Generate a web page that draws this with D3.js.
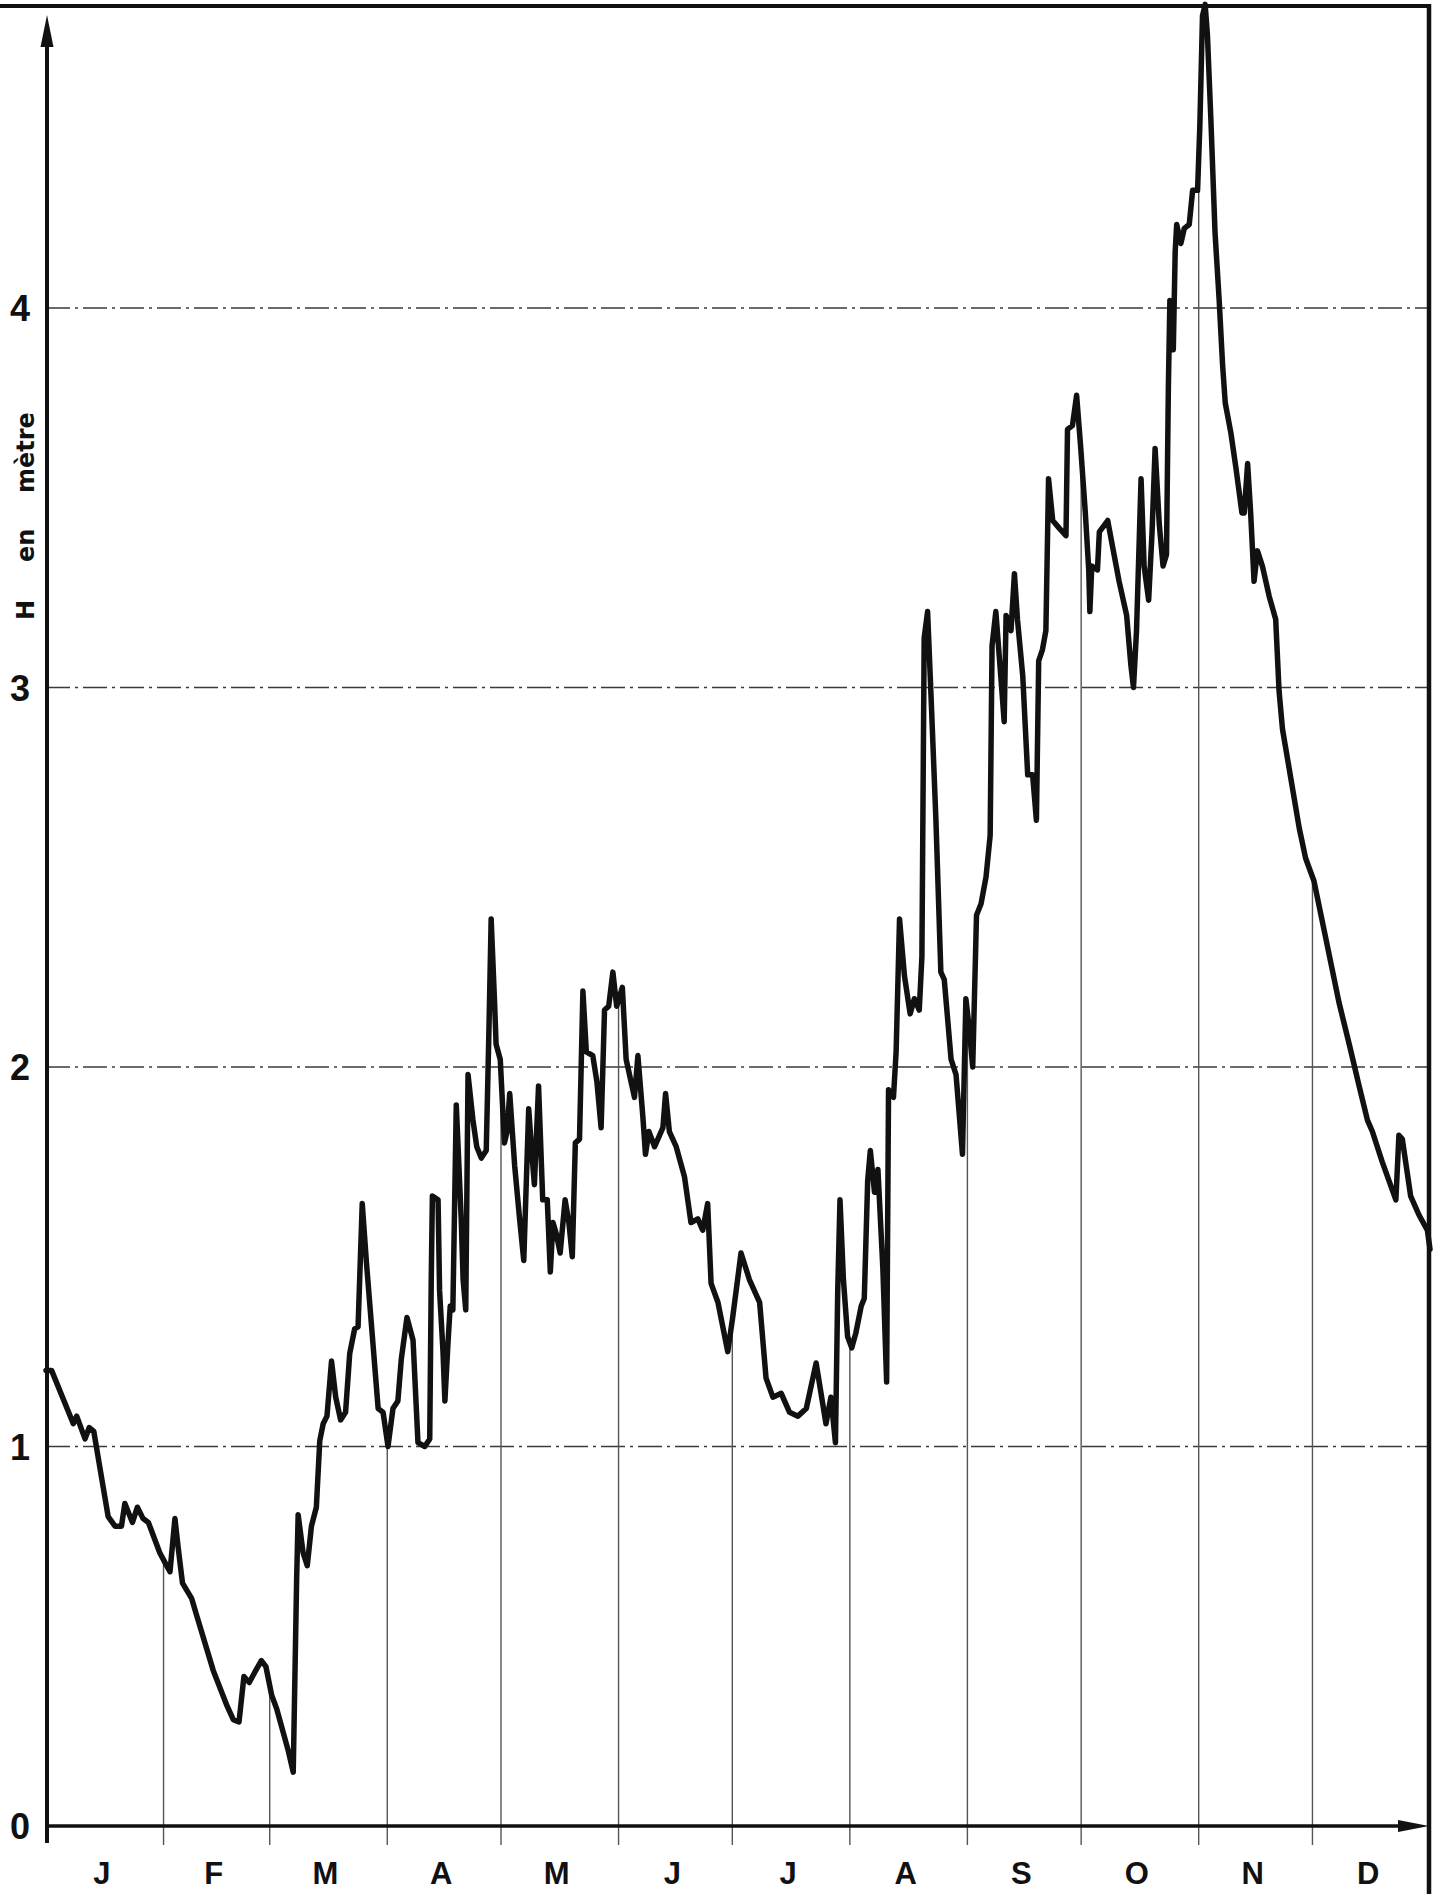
<!DOCTYPE html>
<html>
<head>
<meta charset="utf-8">
<script src="https://cdn.jsdelivr.net/npm/d3@7"></script>
<style>
  html, body { margin: 0; padding: 0; background: #fff; }
  svg { display: block; }
</style>
</head>
<body>
<svg id="chart" width="1443" height="1894"></svg>
<script>
// Daily water level (m) over the year, day 0 = 1 January
const days = [
  0, 1.5, 7.2, 8.1, 10.3, 11.4, 12.6, 14.2, 16.4, 18.2, 19.9, 20.8, 22.8, 24.1, 25.6, 27,
  30, 31.6, 32.7, 34, 34.9, 36, 38.4, 39.7, 44.1, 47.6, 49.4, 50.9, 52.2, 53.6, 55.1, 56.8,
  58, 59.5, 60.8, 63.9, 65.2, 66.1, 66.5, 67.8, 68.9, 70, 71.3, 72.2, 73.1, 74.1, 75.3, 76.4,
  77.7, 79, 80.1, 81.4, 82.3, 83.4, 84.5, 87.6, 88.9, 90.2, 91.5, 92.8, 93.7, 95.2, 96.8, 98.1,
  99.9, 101.2, 101.6, 101.9, 103.4, 103.8, 104.7, 105.2, 106, 106.6, 107.3, 108.2, 109.5, 110, 110.7, 111.3,
  112.6, 113.6, 114.8, 116.1, 116.8, 117.4, 118.3, 118.7, 119.8, 120.9, 121.6, 122.3, 123.6, 124.9, 126, 127.3,
  128, 128.8, 129.9, 131, 132.2, 133, 133.7, 134.6, 135.6, 136.9, 137.9, 138.8, 139.6, 140.7, 141.6, 142.5,
  144.2, 145.3, 146.4, 147.3, 148.4, 149.5, 150.5, 152, 153, 154.1, 155.2, 156.1, 157.4, 158.1, 159, 160.5,
  162.7, 163.4, 164.4, 166.2, 168.4, 170.1, 171.9, 173.2, 174.5, 175.4, 177.2, 179.8, 181.1, 183.3,
  185.5, 188.2, 189.9, 191.7, 193.9, 196.1, 198.3, 200.5, 203.1, 205.7, 207, 208.2, 208.8, 209.4, 210.3, 211.4,
  212.5, 213.6, 215, 215.8, 216.7, 217.4, 218.5, 219.4, 220.7, 221.7, 222.2, 223.5, 224.2, 225.1, 226.4, 227.9,
  229, 230.3, 231, 231.6, 232.5, 233.4, 234.7, 236, 236.9, 238.7, 240, 241.7, 242.6, 243.5, 244.4, 245.4,
  246.6, 247.9, 249, 249.5, 250.5, 251.8, 252.7, 253.2, 254.5, 255.4, 256.2, 257.6, 258.9, 260.2, 261.2, 261.8,
  262.8, 263.7, 264.4, 265.5, 267.2, 269, 269.4, 270.7, 271.8, 272.9, 274.1, 275, 275.3, 275.8, 277.3, 277.8,
  280, 281.3, 283, 285, 286.1, 286.8, 287.6, 288.8, 289.6, 290.8, 291.7, 292.5, 293.6, 294.6, 295.5, 296,
  296.4, 297.3, 297.8, 298.2, 299.3, 300.2, 301.5, 302.4, 303.7, 304.3, 305, 305.7, 306.3, 307.2, 308.3, 309.4,
  310.3, 311, 312.5, 313.8, 315.4, 316, 316.9, 317.7, 318.6, 319.5, 320.8, 322.6, 324.3, 325.2, 326.1, 327.8,
  330.5, 332.2, 334.4, 337.5, 341, 343.7, 346.3, 348.5, 349.8, 352.4, 356, 356.8, 357.7, 359.9, 362.1, 364.3, 365
];
const heights = [
  1.20, 1.20, 1.06, 1.08, 1.02, 1.05, 1.04, 0.945, 0.815, 0.79, 0.79, 0.85, 0.80, 0.84, 0.81, 0.80,
  0.72, 0.69, 0.67, 0.81, 0.73, 0.64, 0.60, 0.556, 0.41, 0.32, 0.28, 0.274, 0.394, 0.378, 0.406, 0.436,
  0.42, 0.345, 0.31, 0.198, 0.142, 0.65, 0.82, 0.72, 0.686, 0.79, 0.84, 1.015, 1.06, 1.08, 1.225, 1.13,
  1.07, 1.09, 1.245, 1.31, 1.315, 1.64, 1.486, 1.10, 1.09, 1.00, 1.10, 1.12, 1.23, 1.34, 1.28, 1.01,
  1.00, 1.02, 1.44, 1.66, 1.65, 1.41, 1.25, 1.12, 1.27, 1.37, 1.36, 1.90, 1.60, 1.44, 1.36, 1.98,
  1.86, 1.79, 1.76, 1.78, 2.09, 2.39, 2.17, 2.06, 2.02, 1.80, 1.83, 1.93, 1.74, 1.60, 1.49, 1.89,
  1.79, 1.69, 1.95, 1.65, 1.65, 1.46, 1.59, 1.56, 1.51, 1.65, 1.59, 1.50, 1.80, 1.81, 2.20, 2.04,
  2.03, 1.96, 1.84, 2.15, 2.16, 2.25, 2.16, 2.21, 2.02, 1.97, 1.92, 2.03, 1.87, 1.77, 1.83, 1.79,
  1.84, 1.93, 1.83, 1.79, 1.71, 1.59, 1.60, 1.57, 1.64, 1.43, 1.38, 1.25, 1.34, 1.51,
  1.44, 1.38, 1.18, 1.13, 1.14, 1.09, 1.08, 1.10, 1.22, 1.06, 1.13, 1.01, 1.41, 1.65, 1.44, 1.29,
  1.26, 1.30, 1.37, 1.39, 1.70, 1.78, 1.67, 1.73, 1.47, 1.17, 1.94, 1.92, 2.04, 2.39, 2.24, 2.14,
  2.18, 2.15, 2.29, 3.13, 3.20, 2.98, 2.65, 2.25, 2.23, 2.02, 1.98, 1.77, 2.18, 2.10, 2.00, 2.40,
  2.43, 2.50, 2.61, 3.11, 3.20, 3.03, 2.91, 3.19, 3.15, 3.30, 3.18, 3.03, 2.77, 2.77, 2.65, 3.07,
  3.10, 3.15, 3.55, 3.44, 3.42, 3.40, 3.68, 3.69, 3.77, 3.63, 3.46, 3.31, 3.20, 3.32, 3.31, 3.41,
  3.44, 3.37, 3.28, 3.19, 3.06, 3.00, 3.15, 3.55, 3.32, 3.23, 3.41, 3.63, 3.43, 3.32, 3.35, 3.79,
  4.02, 3.89, 4.15, 4.22, 4.17, 4.21, 4.22, 4.31, 4.31, 4.48, 4.77, 4.80, 4.72, 4.50, 4.20, 4.02,
  3.85, 3.75, 3.67, 3.58, 3.46, 3.46, 3.59, 3.46, 3.28, 3.36, 3.32, 3.24, 3.18, 2.99, 2.89, 2.79,
  2.63, 2.55, 2.49, 2.34, 2.17, 2.06, 1.95, 1.86, 1.83, 1.75, 1.65, 1.82, 1.81, 1.66, 1.61, 1.57, 1.52
];

// Month boundaries (day of year) and their initials
const monthStarts = [0, 31, 59, 90, 120, 151, 181, 212, 243, 273, 304, 334, 365];
const monthLabels = ["J", "F", "M", "A", "M", "J", "J", "A", "S", "O", "N", "D"];

// Height ticks (m)
const yTicks = [0, 1, 2, 3, 4];
const yMax = 4.8;
const yTitle = ["H", "en", "mètre"];

const svg = d3.select("#chart");

const x = d3.scaleLinear().domain([0, 365]).range([46, 1430]);
const y = d3.scaleLinear().domain([0, yMax]).range([1826, 1826 - yMax * 379.5]);

const points = days.map((d, i) => ({ d, h: heights[i] }));

// Water level at any day, interpolated along the series
const bis = d3.bisector(p => p.d).left;
function levelAt(day) {
  const i = bis(points, day);
  if (i <= 0) return points[0].h;
  if (i >= points.length) return points[points.length - 1].h;
  const a = points[i - 1], b = points[i];
  return a.h + (b.h - a.h) * (day - a.d) / (b.d - a.d);
}

const xLeft = x(0), xRight = x(365), yBase = y(0);

// Horizontal dash-dot guides at each metre
svg.append("g")
  .selectAll("line")
  .data(yTicks.filter(t => t > 0))
  .join("line")
  .attr("x1", xLeft).attr("x2", xRight)
  .attr("y1", d => y(d)).attr("y2", d => y(d))
  .attr("stroke", "#3a3a3a")
  .attr("stroke-width", 1.3)
  .attr("stroke-dasharray", "24,5,3,5");

// Month drop lines, from the level curve down past the baseline
svg.append("g")
  .selectAll("line")
  .data(monthStarts.slice(1, -1))
  .join("line")
  .attr("x1", d => x(d)).attr("x2", d => x(d))
  .attr("y1", d => y(levelAt(d)))
  .attr("y2", yBase + 19)
  .attr("stroke", "#555")
  .attr("stroke-width", 1.4);

// Water level curve
const line = d3.line().x(p => x(p.d)).y(p => y(p.h));
svg.append("path")
  .datum(points)
  .attr("d", line)
  .attr("fill", "none")
  .attr("stroke", "#111")
  .attr("stroke-width", 5.5)
  .attr("stroke-linejoin", "round")
  .attr("stroke-linecap", "round");

// Frame: top edge and right edge
svg.append("line")
  .attr("x1", 0).attr("x2", xRight + 1)
  .attr("y1", 6).attr("y2", 6)
  .attr("stroke", "#111").attr("stroke-width", 4);
svg.append("line")
  .attr("x1", xRight - 1).attr("x2", xRight - 1)
  .attr("y1", 4).attr("y2", 1894)
  .attr("stroke", "#111").attr("stroke-width", 4.5);

// Vertical axis with arrow
svg.append("line")
  .attr("x1", xLeft + 1).attr("x2", xLeft + 1)
  .attr("y1", 40).attr("y2", yBase + 17)
  .attr("stroke", "#111").attr("stroke-width", 4);
svg.append("path")
  .attr("d", `M${xLeft + 1},15 L${xLeft + 7.5},47 L${xLeft - 5.5},47 Z`)
  .attr("fill", "#111");

// Horizontal axis with arrow
svg.append("line")
  .attr("x1", xLeft - 1).attr("x2", xRight - 20)
  .attr("y1", yBase).attr("y2", yBase)
  .attr("stroke", "#111").attr("stroke-width", 3.5);
svg.append("path")
  .attr("d", `M${xRight - 1},${yBase} L${xRight - 32},${yBase - 6} L${xRight - 32},${yBase + 6} Z`)
  .attr("fill", "#111");

// Height tick labels
svg.append("g")
  .selectAll("text")
  .data(yTicks)
  .join("text")
  .attr("x", 20)
  .attr("y", d => y(d) + 13)
  .attr("text-anchor", "middle")
  .attr("font-family", "'Liberation Sans', Arial, sans-serif")
  .attr("font-weight", "bold")
  .attr("font-size", 36)
  .attr("fill", "#111")
  .text(d => d);

// Month initials, centred in each month
svg.append("g")
  .selectAll("text")
  .data(monthLabels)
  .join("text")
  .attr("x", (d, i) => x((monthStarts[i] + monthStarts[i + 1]) / 2) - 3)
  .attr("y", 1884)
  .attr("text-anchor", "middle")
  .attr("font-family", "'Liberation Sans', Arial, sans-serif")
  .attr("font-weight", "bold")
  .attr("font-size", 31)
  .attr("fill", "#111")
  .text(d => d);

// Rotated axis title, words spread along the axis
const titleStarts = [620, 562, 493];
svg.append("g")
  .attr("transform", "rotate(-90)")
  .selectAll("text")
  .data(yTitle)
  .join("text")
  .attr("x", (d, i) => -titleStarts[i])
  .attr("y", 34)
  .attr("font-family", "'DejaVu Sans', sans-serif")
  .attr("font-weight", "bold")
  .attr("font-size", 24)
  .attr("fill", "#111")
  .text(d => d);
</script>
</body>
</html>
